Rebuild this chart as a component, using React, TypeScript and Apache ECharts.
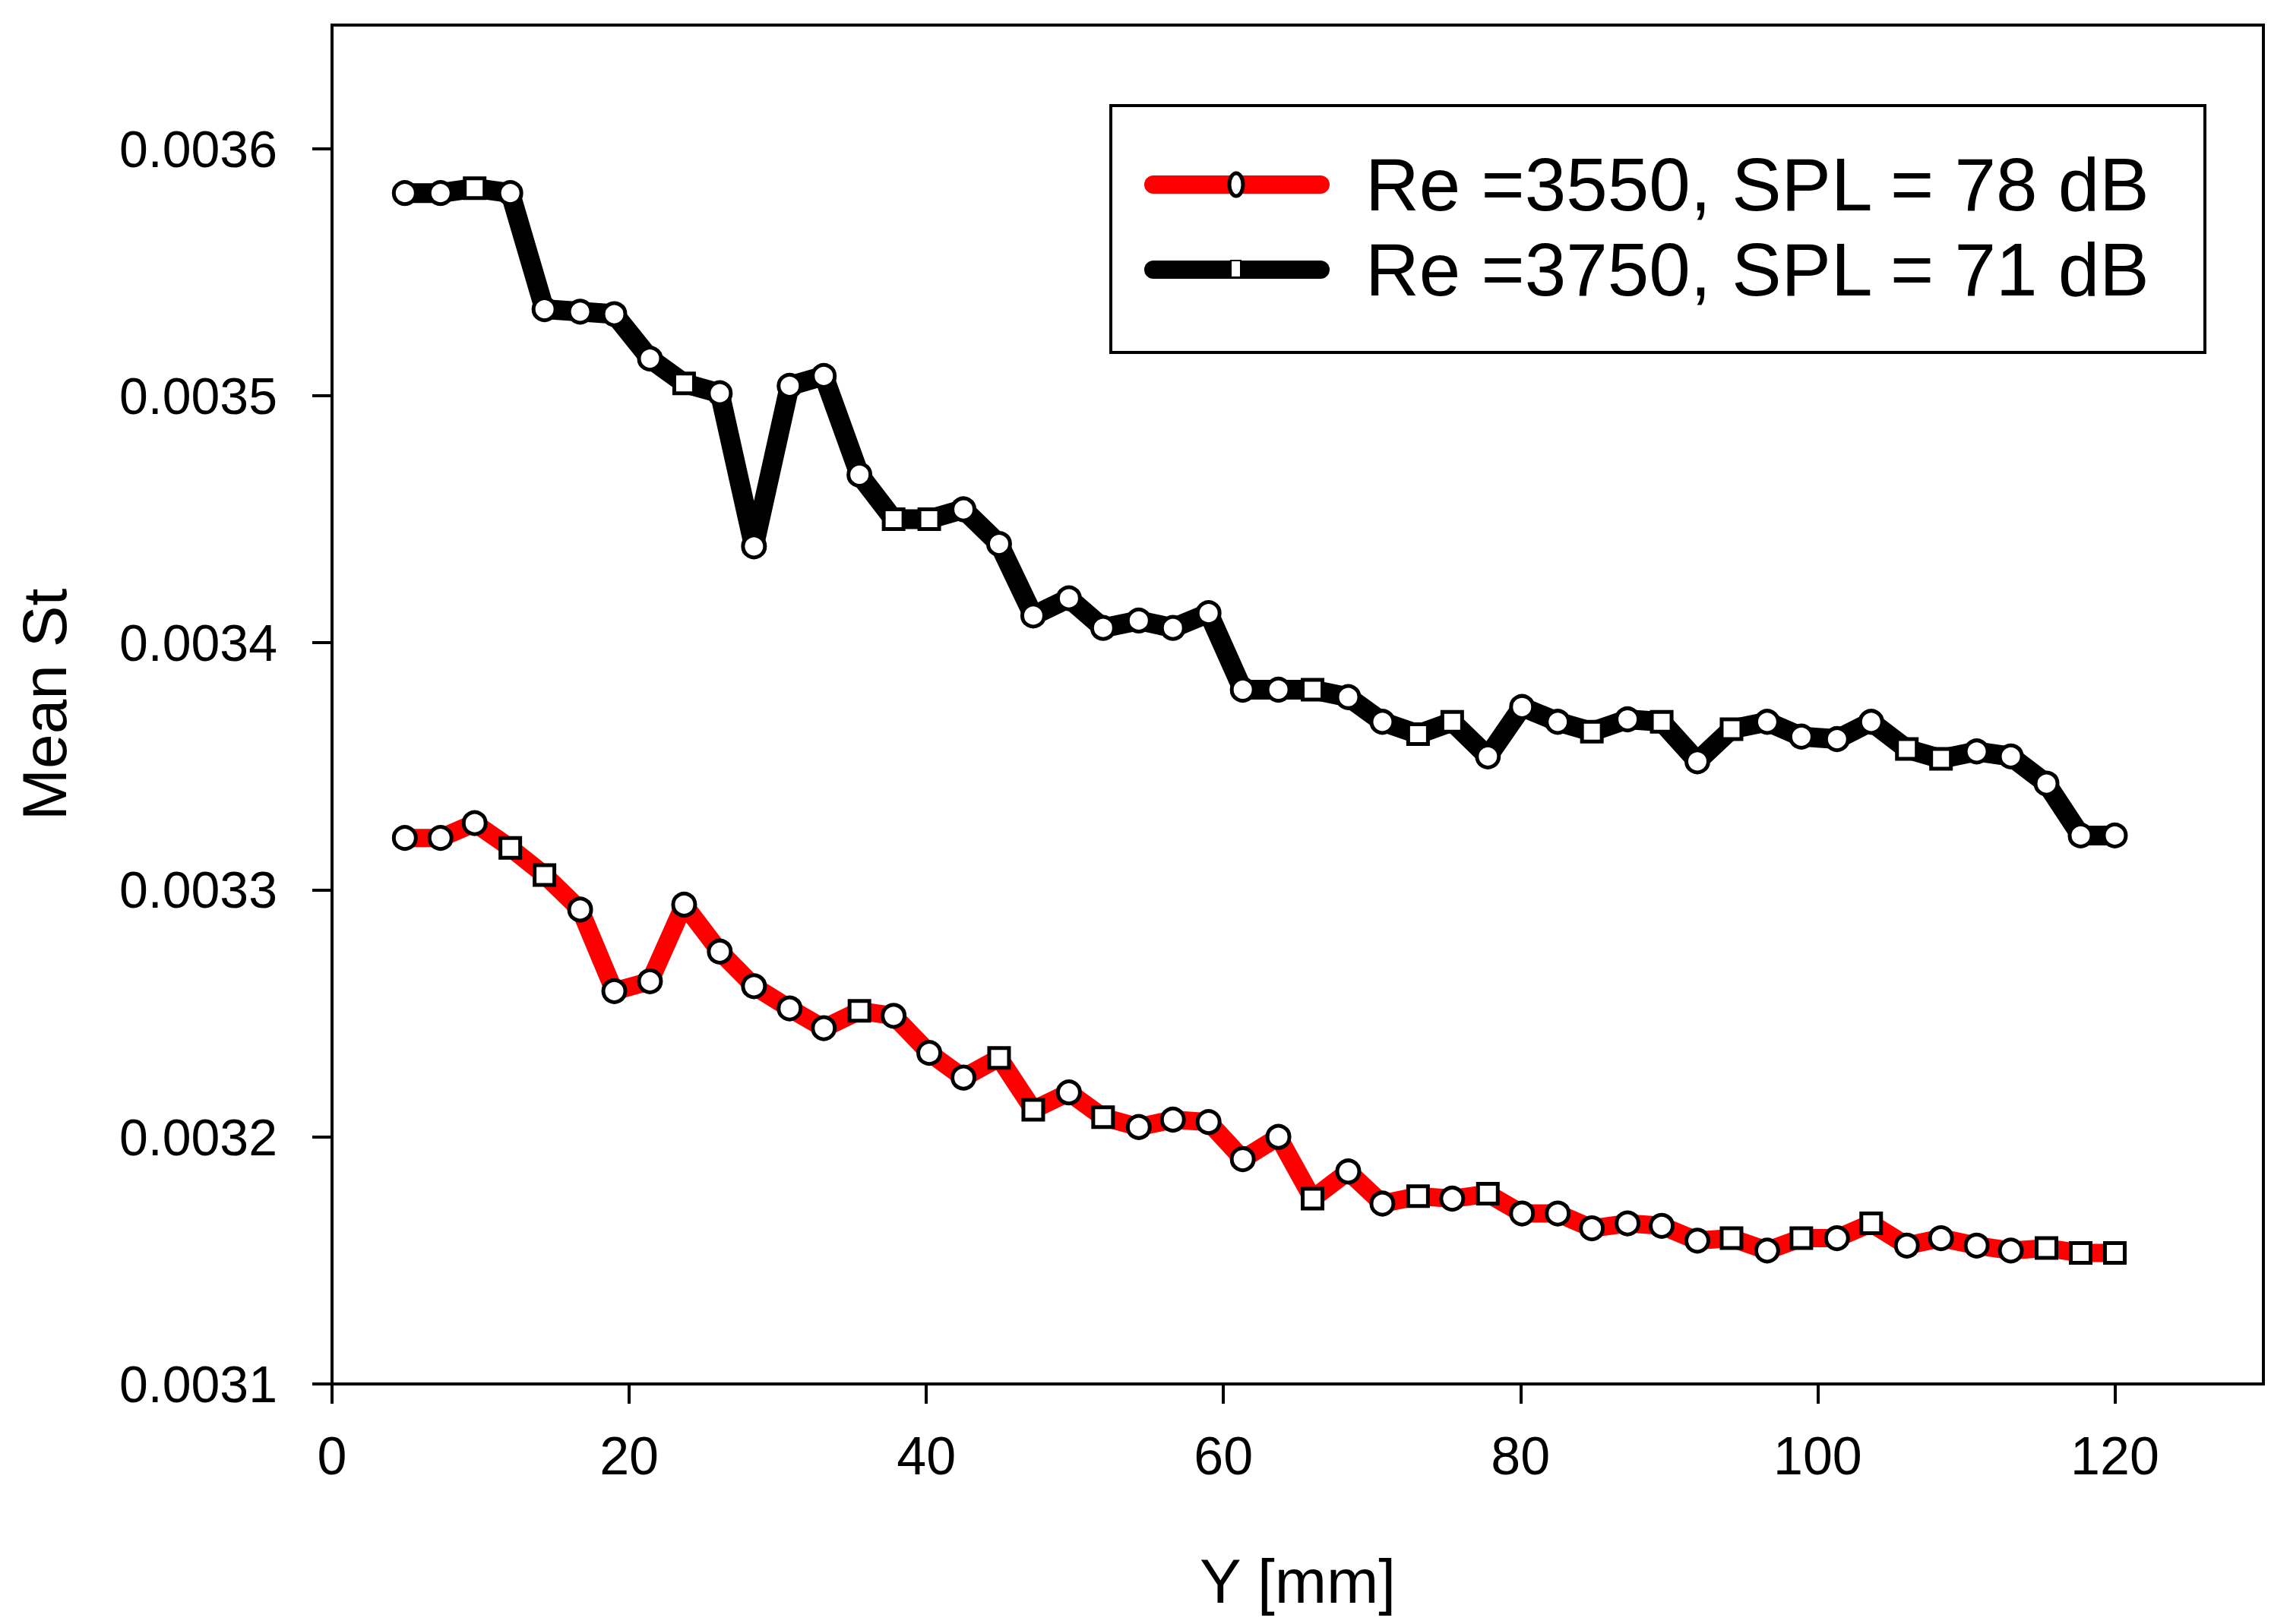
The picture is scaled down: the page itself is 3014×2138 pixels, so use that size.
import React, { useEffect, useRef } from "react";
import * as echarts from "echarts";

// ---------- data ----------
const xValues = [
  4.9, 7.3, 9.6, 12.0, 14.3, 16.7, 19.0, 21.4, 23.7, 26.1,
  28.4, 30.8, 33.1, 35.5, 37.8, 40.2, 42.5, 44.9, 47.2, 49.6,
  51.9, 54.3, 56.6, 59.0, 61.3, 63.7, 66.0, 68.4, 70.7, 73.1,
  75.4, 77.8, 80.1, 82.5, 84.8, 87.2, 89.5, 91.9, 94.2, 96.6,
  98.9, 101.3, 103.6, 106.0, 108.3, 110.7, 113.0, 115.4, 117.7, 120.0,
];

const re3550 = [
  0.003321, 0.003321, 0.003327, 0.003317, 0.003306, 0.003292, 0.003259, 0.003263, 0.003294, 0.003275,
  0.003261, 0.003252, 0.003244, 0.003251, 0.003249, 0.003234, 0.003224, 0.003232, 0.003211, 0.003218,
  0.003208, 0.003204, 0.003207, 0.003206, 0.003191, 0.003200, 0.003175, 0.003186, 0.003173, 0.003176,
  0.003175, 0.003177, 0.003169, 0.003169, 0.003163, 0.003165, 0.003164, 0.003158, 0.003159, 0.003154,
  0.003159, 0.003159, 0.003165, 0.003156, 0.003159, 0.003156, 0.003154, 0.003155, 0.003153, 0.003153,
];

const re3750 = [
  0.003582, 0.003582, 0.003584, 0.003582, 0.003535, 0.003534, 0.003533, 0.003515, 0.003505, 0.003501,
  0.003439, 0.003504, 0.003508, 0.003468, 0.003450, 0.003450, 0.003454, 0.003440, 0.003411, 0.003418,
  0.003406, 0.003409, 0.003406, 0.003412, 0.003381, 0.003381, 0.003381, 0.003378, 0.003368, 0.003363,
  0.003368, 0.003354, 0.003374, 0.003368, 0.003364, 0.003369, 0.003368, 0.003352, 0.003365, 0.003368,
  0.003362, 0.003361, 0.003368, 0.003357, 0.003353, 0.003356, 0.003354, 0.003343, 0.003322, 0.003322,
];

// marker shape per point: C = circle, S = square
const marks3550 = "CCCSSCCCCC" + "CCCSCCCSSC" + "SCCCCCSCCS" + "CSCCCCCCSC" + "SCSCCCCSSS";
const marks3750 = "CCSCCCCCSC" + "CCCCSSCCCC" + "CCCCCCSCCS" + "SCCCSCSCSC" + "CCCSSCCCCC";

const seriesNames = ["Re =3550, SPL = 78 dB", "Re =3750, SPL = 71 dB"];
const xTicks = [0, 20, 40, 60, 80, 100, 120];
const yTicks = [0.0031, 0.0032, 0.0033, 0.0034, 0.0035, 0.0036];

const FONT = 'Arial, "Liberation Sans", sans-serif';

function buildData(ys: number[], marks: string) {
  return ys.map((y, i) => ({
    value: [xValues[i], y],
    symbol: marks[i] === "S" ? "rect" : "circle",
    symbolSize: marks[i] === "S" ? 26 : 29,
  }));
}

export default function App() {
  const ref = useRef<HTMLDivElement>(null);

  useEffect(() => {
    document.body.style.margin = "0";
    const chart = echarts.init(ref.current as HTMLDivElement, null, { renderer: "svg" });

    const axisLineStyle = { color: "#000", width: 4 };

    const option: any = {
      animation: false,
      backgroundColor: "#ffffff",
      grid: {
        left: 437,
        top: 33,
        right: 35,
        bottom: 316,
        show: true,
        borderColor: "#000",
        borderWidth: 4,
        backgroundColor: "transparent",
      },
      xAxis: {
        type: "value",
        min: 0,
        max: 130,
        name: "Y [mm]",
        nameLocation: "middle",
        nameGap: 218,
        nameTextStyle: { fontSize: 82, color: "#000", fontFamily: FONT },
        axisLine: { show: true, onZero: false, lineStyle: axisLineStyle },
        axisTick: { show: true, inside: false, length: 26, lineStyle: axisLineStyle, customValues: xTicks },
        axisLabel: { customValues: xTicks, fontSize: 70, color: "#000", margin: 60, fontFamily: FONT },
        splitLine: { show: false },
      },
      yAxis: {
        type: "value",
        min: 0.0031,
        max: 0.00365,
        name: "Mean St",
        nameLocation: "middle",
        nameGap: 338,
        nameRotate: 90,
        nameTextStyle: { fontSize: 82, color: "#000", fontFamily: FONT },
        axisLine: { show: true, onZero: false, lineStyle: axisLineStyle },
        axisTick: { show: true, inside: false, length: 26, lineStyle: axisLineStyle, customValues: yTicks },
        axisLabel: {
          customValues: yTicks,
          fontSize: 68,
          color: "#000",
          margin: 72,
          fontFamily: FONT,
          formatter: (v: number) => v.toFixed(4),
        },
        splitLine: { show: false },
      },
      series: [
        {
          type: "line",
          name: seriesNames[0],
          data: buildData(re3550, marks3550),
          showAllSymbol: true,
          lineStyle: { color: "#ff0000", width: 24 },
          itemStyle: { color: "#ffffff", borderColor: "#000000", borderWidth: 5 },
          z: 3,
        },
        {
          type: "line",
          name: seriesNames[1],
          data: buildData(re3750, marks3750),
          showAllSymbol: true,
          lineStyle: { color: "#000000", width: 26 },
          itemStyle: { color: "#ffffff", borderColor: "#000000", borderWidth: 5 },
          z: 4,
        },
      ],
      graphic: [
        {
          type: "rect",
          shape: { x: 1462, y: 139, width: 1440, height: 325 },
          style: { fill: "#ffffff", stroke: "#000", lineWidth: 4 },
          z: 100,
        },
        {
          type: "line",
          shape: { x1: 1518, y1: 243, x2: 1738, y2: 243 },
          style: { stroke: "#ff0000", lineWidth: 24, lineCap: "round" },
          z: 101,
        },
        {
          type: "ellipse",
          shape: { cx: 1627, cy: 243, rx: 9, ry: 15 },
          style: { fill: "#ffffff", stroke: "#000", lineWidth: 5 },
          z: 102,
        },
        {
          type: "line",
          shape: { x1: 1518, y1: 355, x2: 1738, y2: 355 },
          style: { stroke: "#000000", lineWidth: 24, lineCap: "round" },
          z: 101,
        },
        {
          type: "rect",
          shape: { x: 1620, y: 343, width: 13, height: 22 },
          style: { fill: "#ffffff", stroke: "#000", lineWidth: 2 },
          z: 102,
        },
        {
          type: "text",
          x: 1797,
          y: 243,
          style: {
            text: seriesNames[0],
            fontSize: 98,
            fontFamily: FONT,
            fill: "#000",
            verticalAlign: "middle",
            align: "left",
          },
          z: 102,
        },
        {
          type: "text",
          x: 1797,
          y: 355,
          style: {
            text: seriesNames[1],
            fontSize: 98,
            fontFamily: FONT,
            fill: "#000",
            verticalAlign: "middle",
            align: "left",
          },
          z: 102,
        },
      ],
    };

    chart.setOption(option);
    return () => {
      chart.dispose();
    };
  }, []);

  return <div ref={ref} style={{ width: 3014, height: 2138 }} />;
}
